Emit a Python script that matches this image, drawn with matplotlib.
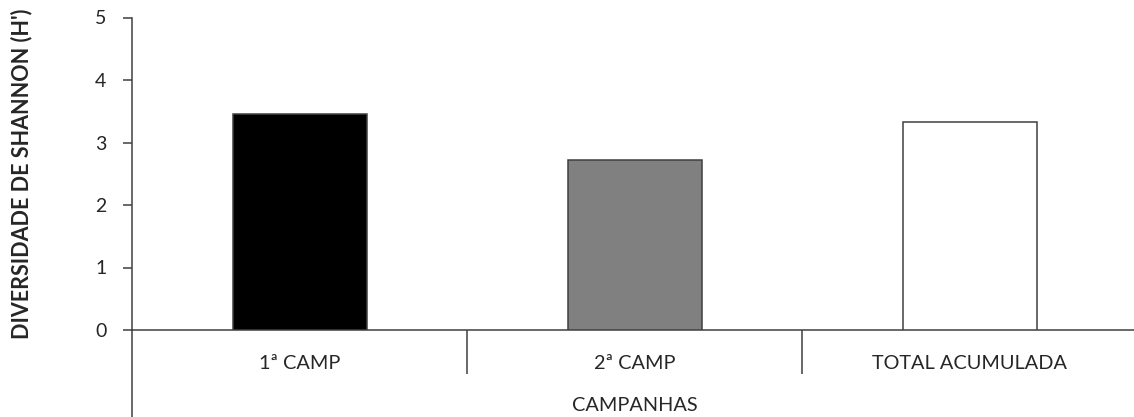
import matplotlib
matplotlib.use("Agg")
import matplotlib.pyplot as plt
from matplotlib.ticker import FixedLocator

# Shannon diversity (H') per sampling campaign
categories = ["1ª CAMP", "2ª CAMP", "TOTAL ACUMULADA"]
shannon_h = [3.45, 2.72, 3.33]
bar_colors = ["#000000", "#808080", "#ffffff"]
y_ticks = [0, 1, 2, 3, 4, 5]

plt.rcParams["font.family"] = ["Lato", "DejaVu Sans"]

W, H = 1134, 417
fig = plt.figure(figsize=(W / 100, H / 100), dpi=100)
fig.patch.set_facecolor("white")

# axes frame in pixel terms: x from 132 to 1137, y0 at 330, y5 at 17.5
left, right = 132, 1137
bottom_px, top_px = 330, 17.5
ax = fig.add_axes([left / W, (H - bottom_px) / H,
                   (right - left) / W, (bottom_px - top_px) / H])

axis_color = "#404040"
text_color = "#262626"
x = list(range(len(categories)))
ax.bar(x, shannon_h, width=0.4, color=bar_colors,
       edgecolor=axis_color, linewidth=1.1, zorder=3)

ax.set_xlim(-0.5, len(categories) - 0.5)
ax.set_ylim(0, 5)
ax.set_yticks(y_ticks)
ax.set_yticklabels([str(t) for t in y_ticks])

for side in ("top", "right"):
    ax.spines[side].set_visible(False)
for side in ("left", "bottom"):
    ax.spines[side].set_color(axis_color)
    ax.spines[side].set_linewidth(1.1)

ax.tick_params(axis="y", direction="out", length=6.5, width=1.1,
               color=axis_color, labelsize=14, pad=12, labelcolor=text_color)

# category labels at bar centres, separators at category boundaries
ax.set_xticks(x)
ax.set_xticklabels(categories)
ax.tick_params(axis="x", which="major", length=0, pad=18,
               labelsize=14.3, labelcolor=text_color)
ax.xaxis.set_minor_locator(FixedLocator([0.5, 1.5]))
ax.tick_params(axis="x", which="minor", direction="out", length=32,
               width=1.1, color=axis_color)

# y axis line continues below the category row
ax.plot([0, 0], [0, -(H - bottom_px) / (bottom_px - top_px)],
        transform=ax.transAxes, color=axis_color, linewidth=1.1,
        clip_on=False, solid_capstyle="butt")

ax.set_xlabel("CAMPANHAS", fontsize=14.3, color=text_color, labelpad=13)
fig.text(22 / W, 0.5 + (H / 2 - 174) / H, "DIVERSIDADE DE SHANNON (H')",
         rotation=90, ha="center", va="center", fontsize=15.5,
         fontweight="bold", color=text_color)

fig.savefig("out.png", dpi=100, facecolor="white")
